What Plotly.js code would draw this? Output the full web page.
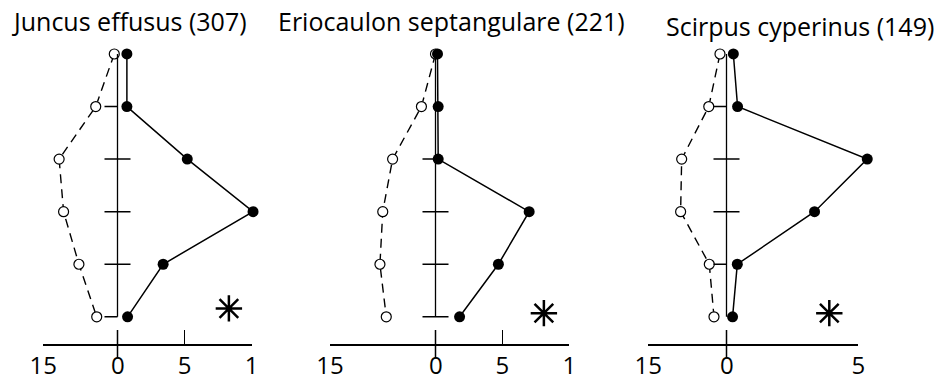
<!DOCTYPE html>
<html>
<head>
<meta charset="utf-8">
<script src="https://cdn.plot.ly/plotly-3.0.1.min.js"></script>
<style>
  html, body { margin: 0; padding: 0; background: #fff; }
  #chart { width: 942px; height: 381px; }
</style>
</head>
<body>
<div id="chart"></div>
<script>
// ---------------- DATA ----------------
const levels = [1, 2, 3, 4, 5, 6];
const speciesNames = ["Juncus effusus (307)", "Eriocaulon septangulare (221)", "Scirpus cyperinus (149)"];

// filled circles (right-hand scale)
const filledJuncus   = [0.7, 0.7, 5.2, 10.1, 3.4, 0.75];
const filledErio     = [0.15, 0.2, 0.2, 7.0, 4.7, 1.8];
const filledScirpus  = [0.26, 0.42, 5.34, 3.34, 0.41, 0.23];

// open circles (left-hand scale)
const openJuncus     = [0.65, 4.4, 11.8, 10.9, 7.8, 4.2];
const openErio       = [0.0, 2.0, 6.1, 7.5, 7.9, 7.0];
const openScirpus    = [1.25, 3.4, 8.6, 8.8, 3.3, 2.4];

// horizontal marks on the central axis
const crossLevels = [[3, 4, 5], [4, 5, 6], [3, 4]];
const stubLevels  = [[2, 6], [3], [2, 5]];

// scales
const leftMax   = [15, 15, 15];
const rightMax  = [10, 10, 5];
const leftTickVals  = [[15], [15], [15]];
const leftTickText  = [["15"], ["15"], ["15"]];
const rightTickVals = [[5, 10], [5, 10], [5]];
const rightTickText = [["5", "1"], ["5", "1"], ["5"]];
const zeroLabel = "0";

// asterisk markers
const asteriskX     = [8.3, 8.1, 3.9];
const asteriskLevel = [5.84, 5.93, 5.93];

const filledSeries = [filledJuncus, filledErio, filledScirpus];
const openSeries   = [openJuncus, openErio, openScirpus];

// ---------------- LAYOUT GEOMETRY ----------------
const W = 942, H = 381;
const FONT = "'Open Sans', Lato, sans-serif";
// pixel positions of [left end, zero, right end] of each panel's bottom scale
const panelPx = [[43.3, 117.5, 251.7], [330, 435.5, 569.3], [648.3, 726.5, 858.3]];
const titlePx = [[129, 21], [451, 21], [800, 26]];
const yDomPx = [40, 344];
const yRange = [6.517, 0.734];
const padPx = 30;

const px2paperX = p => p / W;
const px2paperY = p => 1 - p / H;

const traces = [];
const shapes = [];
const annotations = [];
const layout = {
  width: W, height: H,
  margin: {l: 0, r: 0, t: 0, b: 0},
  paper_bgcolor: "#fff", plot_bgcolor: "rgba(0,0,0,0)",
  showlegend: false,
  font: {family: FONT, color: "#000", size: 24},
  yaxis: {
    domain: [px2paperY(yDomPx[1]), px2paperY(yDomPx[0])],
    range: yRange, visible: false, fixedrange: true
  },
  shapes: shapes, annotations: annotations
};

const scaleAxisCommon = {
  anchor: "y", showline: true, linecolor: "#000", linewidth: 1.5,
  ticks: "inside", ticklen: 14, tickwidth: 1.5, tickcolor: "#000",
  showgrid: false, zeroline: false, fixedrange: true,
  tickfont: {family: FONT, size: 24, color: "#000"}
};
const dataAxisCommon = {anchor: "y", visible: false, fixedrange: true, showgrid: false, zeroline: false};

for (let i = 0; i < 3; i++) {
  const [pL, p0, pR] = panelPx[i];
  const sL = (p0 - pL) / leftMax[i];
  const sR = (pR - p0) / rightMax[i];

  // scale axes (bottom rulers)
  const lS = 2 * i + 1, rS = 2 * i + 2;
  layout["xaxis" + lS] = Object.assign({}, scaleAxisCommon, {
    domain: [px2paperX(pL), px2paperX(p0)],
    range: [leftMax[i], 0],
    tickvals: leftTickVals[i], ticktext: leftTickText[i]
  });
  layout["xaxis" + rS] = Object.assign({}, scaleAxisCommon, {
    domain: [px2paperX(p0), px2paperX(pR)],
    range: [0, rightMax[i]],
    tickvals: rightTickVals[i], ticktext: rightTickText[i]
  });
  traces.push({x: [], y: [], xaxis: "x" + lS, yaxis: "y", mode: "markers", hoverinfo: "skip"});
  traces.push({x: [], y: [], xaxis: "x" + rS, yaxis: "y", mode: "markers", hoverinfo: "skip"});

  // data axes (same scale, padded so nothing is clipped)
  const lD = 7 + 2 * i, rD = 8 + 2 * i;
  const lName = "x" + lD, rName = "x" + rD;
  layout["xaxis" + lD] = Object.assign({}, dataAxisCommon, {
    domain: [px2paperX(pL - padPx), px2paperX(p0 + padPx)],
    range: [leftMax[i] + padPx / sL, -padPx / sL]
  });
  layout["xaxis" + rD] = Object.assign({}, dataAxisCommon, {
    domain: [px2paperX(p0 - padPx), px2paperX(pR + padPx)],
    range: [-padPx / sR, rightMax[i] + padPx / sR]
  });

  // central vertical axis
  traces.push({
    x: [0, 0], y: [levels[0], levels[levels.length - 1]],
    xaxis: rName, yaxis: "y", mode: "lines",
    line: {color: "#000", width: 1.3}, hoverinfo: "skip"
  });

  // open circles, dashed
  traces.push({
    x: openSeries[i], y: levels, xaxis: lName, yaxis: "y",
    mode: "lines+markers", cliponaxis: false,
    line: {color: "#000", width: 1.4, dash: "9px,6px"},
    marker: {symbol: "circle", size: 10, color: "#fff", line: {color: "#000", width: 1.2}}
  });

  // filled circles, solid
  traces.push({
    x: filledSeries[i], y: levels, xaxis: rName, yaxis: "y",
    mode: "lines+markers", cliponaxis: false,
    line: {color: "#000", width: 1.5},
    marker: {symbol: "circle", size: 11, color: "#000"}
  });

  // asterisk
  traces.push({
    x: [asteriskX[i]], y: [asteriskLevel[i]], xaxis: rName, yaxis: "y",
    mode: "markers", cliponaxis: false,
    marker: {symbol: "asterisk-open", size: 22, color: "#000", line: {color: "#000", width: 2.5}}
  });

  // cross marks
  crossLevels[i].forEach(lv => shapes.push({
    type: "line", xref: rName, yref: "y", xsizemode: "pixel", xanchor: 0,
    x0: -13, x1: 13, y0: lv, y1: lv, line: {color: "#000", width: 1.5}
  }));
  // left stubs
  stubLevels[i].forEach(lv => shapes.push({
    type: "line", xref: rName, yref: "y", xsizemode: "pixel", xanchor: 0,
    x0: -13, x1: 0, y0: lv, y1: lv, line: {color: "#000", width: 1.5}
  }));

  // zero tick crossing the bottom scale
  shapes.push({
    type: "line", xref: rName, yref: "paper", x0: 0, x1: 0,
    y0: px2paperY(358), y1: px2paperY(330), line: {color: "#000", width: 1.5}
  });
  annotations.push({
    text: zeroLabel, xref: rName, yref: "paper", x: 0, y: px2paperY(364),
    xanchor: "center", yanchor: "middle", showarrow: false,
    font: {family: FONT, size: 24, color: "#000"}
  });

  // panel title
  annotations.push({
    text: speciesNames[i], xref: "paper", yref: "paper",
    x: px2paperX(titlePx[i][0]), y: px2paperY(titlePx[i][1]),
    xanchor: "center", yanchor: "middle", showarrow: false,
    font: {family: FONT, size: 25, color: "#000"}
  });
}

Plotly.newPlot("chart", traces, layout, {displayModeBar: false, staticPlot: true});
</script>
</body>
</html>
